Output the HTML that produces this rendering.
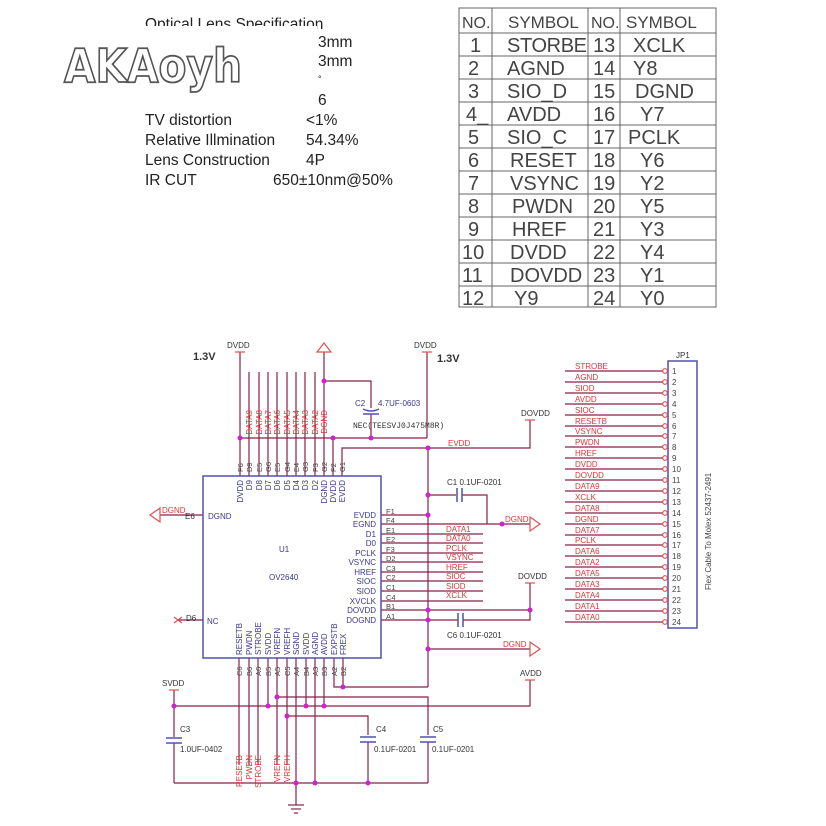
<!DOCTYPE html>
<html><head><meta charset="utf-8"><style>
html,body{margin:0;padding:0;background:#fff;width:826px;height:826px;overflow:hidden}
svg{display:block}
</style></head><body>
<svg width="826" height="826" viewBox="0 0 826 826" xmlns="http://www.w3.org/2000/svg" font-family="Liberation Sans, sans-serif">
<rect width="826" height="826" fill="#fff"/>
<!-- lens spec -->
<g font-size="15.5" fill="#222">
<text x="145" y="29">Optical Lens Specification</text>
<text x="318" y="47">3mm</text>
<text x="318" y="66">3mm</text>
<text x="318" y="82" font-size="9">°</text>
<text x="318" y="105">6</text>
<text x="145" y="125">TV distortion</text><text x="306" y="125">&lt;1%</text>
<text x="145" y="145">Relative Illmination</text><text x="306" y="145">54.34%</text>
<text x="145" y="165">Lens Construction</text><text x="306" y="165">4P</text>
<text x="145" y="185">IR CUT</text><text x="273" y="185">650±10nm@50%</text>
</g>
<rect x="55" y="26" width="262" height="64" fill="#fff"/>
<text x="64" y="82" font-size="46" font-weight="bold" fill="#fff" stroke="#555" stroke-width="1.8" font-family="DejaVu Sans, sans-serif" textLength="178" lengthAdjust="spacingAndGlyphs">AKAoyh</text>
<!-- table -->
<g stroke="#666" stroke-width="1" fill="none">
<rect x="459" y="8" width="257" height="299"/>
<line x1="492" y1="8" x2="492" y2="307"/><line x1="588" y1="8" x2="588" y2="307"/><line x1="620" y1="8" x2="620" y2="307"/>
<line x1="459" y1="33" x2="716" y2="33"/><line x1="459" y1="56" x2="716" y2="56"/><line x1="459" y1="79" x2="716" y2="79"/><line x1="459" y1="102" x2="716" y2="102"/><line x1="459" y1="125" x2="716" y2="125"/><line x1="459" y1="148" x2="716" y2="148"/><line x1="459" y1="171" x2="716" y2="171"/><line x1="459" y1="194" x2="716" y2="194"/><line x1="459" y1="217" x2="716" y2="217"/><line x1="459" y1="240" x2="716" y2="240"/><line x1="459" y1="263" x2="716" y2="263"/><line x1="459" y1="286" x2="716" y2="286"/>
</g>
<g font-family="Liberation Sans, sans-serif" font-size="20" fill="#444">
<text x="462" y="28" font-size="16">NO.</text><text x="508" y="28" font-size="17">SYMBOL</text><text x="591" y="28" font-size="16">NO.</text><text x="626" y="28" font-size="17">SYMBOL</text>
<text x="470" y="52">1</text><text x="507" y="52" textLength="80">STORBE</text><text x="593" y="52">13</text><text x="633" y="52">XCLK</text>
<text x="468" y="75">2</text><text x="507" y="75">AGND</text><text x="593" y="75">14</text><text x="633" y="75">Y8</text>
<text x="468" y="98">3</text><text x="507" y="98">SIO_D</text><text x="593" y="98">15</text><text x="635" y="98">DGND</text>
<text x="466" y="121">4_</text><text x="507" y="121">AVDD</text><text x="593" y="121">16</text><text x="640" y="121">Y7</text>
<text x="468" y="144">5</text><text x="507" y="144">SIO_C</text><text x="593" y="144">17</text><text x="628" y="144">PCLK</text>
<text x="468" y="167">6</text><text x="510" y="167">RESET</text><text x="593" y="167">18</text><text x="640" y="167">Y6</text>
<text x="468" y="190">7</text><text x="510" y="190">VSYNC</text><text x="593" y="190">19</text><text x="640" y="190">Y2</text>
<text x="468" y="213">8</text><text x="512" y="213">PWDN</text><text x="593" y="213">20</text><text x="640" y="213">Y5</text>
<text x="468" y="236">9</text><text x="512" y="236">HREF</text><text x="593" y="236">21</text><text x="640" y="236">Y3</text>
<text x="462" y="259">10</text><text x="510" y="259">DVDD</text><text x="593" y="259">22</text><text x="640" y="259">Y4</text>
<text x="462" y="282">11</text><text x="510" y="282">DOVDD</text><text x="593" y="282">23</text><text x="640" y="282">Y1</text>
<text x="462" y="305">12</text><text x="514" y="305">Y9</text><text x="593" y="305">24</text><text x="640" y="305">Y0</text>
</g>

<!-- schematic wires -->
<g stroke="#8a2048" stroke-width="1.2" fill="none">
<line x1="240" y1="352" x2="240" y2="476"/>
<line x1="249" y1="372" x2="249" y2="476"/><line x1="259" y1="372" x2="259" y2="476"/><line x1="268" y1="372" x2="268" y2="476"/><line x1="277" y1="372" x2="277" y2="476"/><line x1="287" y1="372" x2="287" y2="476"/><line x1="296" y1="372" x2="296" y2="476"/><line x1="305" y1="372" x2="305" y2="476"/><line x1="315" y1="372" x2="315" y2="476"/>
<line x1="324" y1="352" x2="324" y2="476"/>
<line x1="333" y1="438" x2="333" y2="476"/>
<polyline points="342,476 342,448 530,448 530,420"/>
<line x1="240" y1="438" x2="427" y2="438"/>
<line x1="427" y1="352" x2="427" y2="438"/>
<polyline points="324,381 371,381 371,408"/>
<line x1="371" y1="414" x2="371" y2="438"/>
<line x1="428" y1="448" x2="428" y2="687"/>
<polyline points="428,495 456,495"/><polyline points="462,495 487,495 487,524"/>
<line x1="381" y1="515" x2="428" y2="515"/>
<line x1="381" y1="524" x2="530" y2="524"/>
<line x1="381" y1="534" x2="483" y2="534"/><line x1="381" y1="543" x2="483" y2="543"/><line x1="381" y1="553" x2="483" y2="553"/><line x1="381" y1="562" x2="483" y2="562"/><line x1="381" y1="572" x2="483" y2="572"/><line x1="381" y1="581" x2="483" y2="581"/><line x1="381" y1="591" x2="483" y2="591"/><line x1="381" y1="601" x2="483" y2="601"/>
<polyline points="381,610 530,610 530,583"/>
<line x1="381" y1="620" x2="458" y2="620"/><polyline points="463,620 530,620 530,610"/>
<line x1="428" y1="649" x2="530" y2="649"/>
<line x1="160" y1="515" x2="203" y2="515"/>
<line x1="178" y1="620" x2="203" y2="620"/>
<line x1="239" y1="658" x2="239" y2="765"/><line x1="249" y1="658" x2="249" y2="765"/><line x1="258" y1="658" x2="258" y2="765"/>
<line x1="268" y1="658" x2="268" y2="706"/>
<line x1="277" y1="658" x2="277" y2="765"/><line x1="287" y1="658" x2="287" y2="765"/>
<line x1="296" y1="658" x2="296" y2="805"/>
<line x1="306" y1="658" x2="306" y2="706"/>
<line x1="315" y1="658" x2="315" y2="783"/>
<line x1="324" y1="658" x2="324" y2="706"/>
<polyline points="334,658 334,687 428,687"/>
<line x1="343" y1="658" x2="343" y2="687"/>
<polyline points="174,690 174,706 530,706 530,680"/>
<polyline points="277,697 428,697 428,735"/>
<polyline points="287,716 368,716 368,735"/>
<line x1="174" y1="706" x2="174" y2="737"/><line x1="174" y1="743" x2="174" y2="783"/>
<line x1="368" y1="742" x2="368" y2="783"/><line x1="428" y1="742" x2="428" y2="783"/>
<line x1="174" y1="783" x2="428" y2="783"/>
<g>
<line x1="565" y1="371" x2="663" y2="371"/><line x1="565" y1="382" x2="663" y2="382"/><line x1="565" y1="393" x2="663" y2="393"/><line x1="565" y1="404" x2="663" y2="404"/><line x1="565" y1="415" x2="663" y2="415"/><line x1="565" y1="426" x2="663" y2="426"/><line x1="565" y1="436" x2="663" y2="436"/><line x1="565" y1="447" x2="663" y2="447"/><line x1="565" y1="458" x2="663" y2="458"/><line x1="565" y1="469" x2="663" y2="469"/><line x1="565" y1="480" x2="663" y2="480"/><line x1="565" y1="491" x2="663" y2="491"/><line x1="565" y1="502" x2="663" y2="502"/><line x1="565" y1="513" x2="663" y2="513"/><line x1="565" y1="524" x2="663" y2="524"/><line x1="565" y1="535" x2="663" y2="535"/><line x1="565" y1="545" x2="663" y2="545"/><line x1="565" y1="556" x2="663" y2="556"/><line x1="565" y1="567" x2="663" y2="567"/><line x1="565" y1="578" x2="663" y2="578"/><line x1="565" y1="589" x2="663" y2="589"/><line x1="565" y1="600" x2="663" y2="600"/><line x1="565" y1="611" x2="663" y2="611"/><line x1="565" y1="622" x2="663" y2="622"/>
</g>
</g>
<g stroke="#5050b0" stroke-width="1.5" fill="none">
<path d="M363 409 Q371 413 379 409"/><line x1="363" y1="414" x2="379" y2="414"/>
<line x1="457" y1="488" x2="457" y2="502"/><line x1="462" y1="488" x2="462" y2="502"/>
<line x1="458" y1="613" x2="458" y2="627"/><line x1="463" y1="613" x2="463" y2="627"/>
<line x1="166" y1="738" x2="182" y2="738"/><line x1="166" y1="743" x2="182" y2="743"/>
<line x1="360" y1="737" x2="376" y2="737"/><line x1="360" y1="742" x2="376" y2="742"/>
<line x1="420" y1="737" x2="436" y2="737"/><line x1="420" y1="742" x2="436" y2="742"/>
<rect x="203" y="476" width="178" height="182"/>
<rect x="668" y="361" width="29" height="267"/>
</g>
<g stroke="#e05050" stroke-width="1.2" fill="none">
<line x1="235" y1="352" x2="245" y2="352"/><line x1="422" y1="352" x2="432" y2="352"/>
<line x1="525" y1="420" x2="535" y2="420"/><line x1="525" y1="583" x2="535" y2="583"/>
<line x1="525" y1="680" x2="535" y2="680"/><line x1="169" y1="690" x2="179" y2="690"/>
<path d="M317 352 L324 343 L331 352 Z"/>
<path d="M160 508 L150 515 L160 522 Z"/>
<path d="M530 517 L540 524 L530 531 Z"/>
<path d="M530 642 L540 649 L530 656 Z"/>
<path d="M174 617 L182 623 M182 617 L174 623"/>
<circle cx="665" cy="371" r="2.3"/><circle cx="665" cy="382" r="2.3"/><circle cx="665" cy="393" r="2.3"/><circle cx="665" cy="404" r="2.3"/><circle cx="665" cy="415" r="2.3"/><circle cx="665" cy="426" r="2.3"/><circle cx="665" cy="436" r="2.3"/><circle cx="665" cy="447" r="2.3"/><circle cx="665" cy="458" r="2.3"/><circle cx="665" cy="469" r="2.3"/><circle cx="665" cy="480" r="2.3"/><circle cx="665" cy="491" r="2.3"/><circle cx="665" cy="502" r="2.3"/><circle cx="665" cy="513" r="2.3"/><circle cx="665" cy="524" r="2.3"/><circle cx="665" cy="535" r="2.3"/><circle cx="665" cy="545" r="2.3"/><circle cx="665" cy="556" r="2.3"/><circle cx="665" cy="567" r="2.3"/><circle cx="665" cy="578" r="2.3"/><circle cx="665" cy="589" r="2.3"/><circle cx="665" cy="600" r="2.3"/><circle cx="665" cy="611" r="2.3"/><circle cx="665" cy="622" r="2.3"/>
</g>
<g stroke="#8a2048" stroke-width="1.2">
<line x1="288" y1="805" x2="304" y2="805"/><line x1="291" y1="809" x2="301" y2="809"/><line x1="294" y1="813" x2="298" y2="813"/>
</g>
<g fill="#d020d0">
<circle cx="240" cy="438" r="2.5"/><circle cx="333" cy="438" r="2.5"/><circle cx="371" cy="438" r="2.5"/><circle cx="324" cy="381" r="2.5"/>
<circle cx="428" cy="448" r="2.5"/><circle cx="428" cy="495" r="2.5"/><circle cx="428" cy="515" r="2.5"/><circle cx="502" cy="524" r="2.5"/>
<circle cx="428" cy="610" r="2.5"/><circle cx="428" cy="620" r="2.5"/><circle cx="530" cy="610" r="2.5"/><circle cx="428" cy="649" r="2.5"/>
<circle cx="343" cy="687" r="2.5"/><circle cx="174" cy="706" r="2.5"/><circle cx="268" cy="706" r="2.5"/><circle cx="306" cy="706" r="2.5"/><circle cx="324" cy="706" r="2.5"/>
<circle cx="277" cy="697" r="2.5"/><circle cx="287" cy="716" r="2.5"/>
<circle cx="296" cy="783" r="2.5"/><circle cx="315" cy="783" r="2.5"/><circle cx="368" cy="783" r="2.5"/>
</g>
<g font-size="8" fill="#333">
<text x="227" y="348">DVDD</text><text x="414" y="348">DVDD</text>
<text x="521" y="416">DOVDD</text><text x="518" y="579">DOVDD</text><text x="520" y="676">AVDD</text><text x="162" y="686">SVDD</text>
<text x="676" y="358">JP1</text>
<text x="193" y="360" font-size="11" font-weight="bold">1.3V</text><text x="437" y="362" font-size="11" font-weight="bold">1.3V</text>
<text x="378" y="406" fill="#3a3a8a">4.7UF-0603</text><text x="355" y="406" fill="#3a3a8a">C2</text>
<text x="353" y="428" font-family="Liberation Mono, monospace">NEC(TEESVJ0J475M8R)</text>
<text x="447" y="485">C1  0.1UF-0201</text>
<text x="447" y="638">C6  0.1UF-0201</text>
<text x="180" y="732">C3</text><text x="180" y="752">1.0UF-0402</text>
<text x="376" y="732">C4</text><text x="374" y="752">0.1UF-0201</text>
<text x="433" y="732">C5</text><text x="432" y="752">0.1UF-0201</text>
<text x="185" y="519">E6</text><text x="186" y="621">D6</text>
</g>
<g font-size="8" fill="#3a3a8a">
<text x="208" y="519">DGND</text><text x="207" y="624">NC</text>
<text x="279" y="552">U1</text><text x="269" y="580">OV2640</text>
<g text-anchor="end">
<text x="376" y="518">EVDD</text><text x="376" y="527">EGND</text><text x="376" y="537">D1</text><text x="376" y="546">D0</text><text x="376" y="556">PCLK</text><text x="376" y="565">VSYNC</text><text x="376" y="575">HREF</text><text x="376" y="584">SIOC</text><text x="376" y="594">SIOD</text><text x="376" y="604">XVCLK</text><text x="376" y="613">DOVDD</text><text x="376" y="623">DOGND</text>
</g>
<g text-anchor="end">
<text transform="translate(243,480) rotate(-90)">DVDD</text><text transform="translate(252,480) rotate(-90)">D9</text><text transform="translate(262,480) rotate(-90)">D8</text><text transform="translate(271,480) rotate(-90)">D7</text><text transform="translate(280,480) rotate(-90)">D6</text><text transform="translate(290,480) rotate(-90)">D5</text><text transform="translate(299,480) rotate(-90)">D4</text><text transform="translate(308,480) rotate(-90)">D3</text><text transform="translate(318,480) rotate(-90)">D2</text><text transform="translate(327,480) rotate(-90)">DGND</text><text transform="translate(336,480) rotate(-90)">DVDD</text><text transform="translate(345,480) rotate(-90)">EVDD</text>
</g>
<text transform="translate(242,655) rotate(-90)">RESETB</text><text transform="translate(252,655) rotate(-90)">PWDN</text><text transform="translate(261,655) rotate(-90)">STROBE</text><text transform="translate(271,655) rotate(-90)">SVDD</text><text transform="translate(280,655) rotate(-90)">VREFN</text><text transform="translate(290,655) rotate(-90)">VREFH</text><text transform="translate(299,655) rotate(-90)">SGND</text><text transform="translate(309,655) rotate(-90)">SVDD</text><text transform="translate(318,655) rotate(-90)">AGND</text><text transform="translate(327,655) rotate(-90)">AVDD</text><text transform="translate(337,655) rotate(-90)">EXPSTB</text><text transform="translate(346,655) rotate(-90)">FREX</text>
</g>
<g font-size="7.5" fill="#444">
<text transform="translate(243,472) rotate(-90)">F6</text><text transform="translate(252,472) rotate(-90)">D9</text><text transform="translate(262,472) rotate(-90)">E5</text><text transform="translate(271,472) rotate(-90)">G6</text><text transform="translate(280,472) rotate(-90)">E5</text><text transform="translate(290,472) rotate(-90)">G4</text><text transform="translate(299,472) rotate(-90)">E4</text><text transform="translate(308,472) rotate(-90)">G3</text><text transform="translate(318,472) rotate(-90)">F3</text><text transform="translate(327,472) rotate(-90)">G2</text><text transform="translate(336,472) rotate(-90)">F2</text><text transform="translate(345,472) rotate(-90)">G1</text>
<text transform="translate(242,676) rotate(-90)">C6</text><text transform="translate(252,676) rotate(-90)">B6</text><text transform="translate(261,676) rotate(-90)">A6</text><text transform="translate(271,676) rotate(-90)">B5</text><text transform="translate(280,676) rotate(-90)">A5</text><text transform="translate(290,676) rotate(-90)">C5</text><text transform="translate(299,676) rotate(-90)">A4</text><text transform="translate(309,676) rotate(-90)">B4</text><text transform="translate(318,676) rotate(-90)">A3</text><text transform="translate(327,676) rotate(-90)">B3</text><text transform="translate(337,676) rotate(-90)">A2</text><text transform="translate(346,676) rotate(-90)">B2</text>
<text x="386" y="514">F1</text><text x="386" y="523">F4</text><text x="386" y="533">E1</text><text x="386" y="542">E2</text><text x="386" y="552">F3</text><text x="386" y="561">D2</text><text x="386" y="571">C3</text><text x="386" y="580">C2</text><text x="386" y="590">C1</text><text x="386" y="600">C4</text><text x="386" y="609">B1</text><text x="386" y="619">A1</text>
<g font-size="8">
<text x="672" y="374">1</text><text x="672" y="385">2</text><text x="672" y="396">3</text><text x="672" y="407">4</text><text x="672" y="418">5</text><text x="672" y="429">6</text><text x="672" y="439">7</text><text x="672" y="450">8</text><text x="672" y="461">9</text><text x="672" y="472">10</text><text x="672" y="483">11</text><text x="672" y="494">12</text><text x="672" y="505">13</text><text x="672" y="516">14</text><text x="672" y="527">15</text><text x="672" y="538">16</text><text x="672" y="548">17</text><text x="672" y="559">18</text><text x="672" y="570">19</text><text x="672" y="581">20</text><text x="672" y="592">21</text><text x="672" y="603">22</text><text x="672" y="614">23</text><text x="672" y="625">24</text>
</g>
<text transform="translate(711,590) rotate(-90)" font-size="8">Flex Cable To Molex 52437-2491</text>
</g>
<g font-size="8" fill="#e03535">
<text x="448" y="446">EVDD</text>
<text x="162" y="513">DGND</text><text x="505" y="522">DGND</text><text x="503" y="647">DGND</text>
<text x="446" y="532">DATA1</text><text x="446" y="541">DATA0</text><text x="446" y="551">PCLK</text><text x="446" y="560">VSYNC</text><text x="446" y="570">HREF</text><text x="446" y="579">SIOC</text><text x="446" y="589">SIOD</text><text x="446" y="598">XCLK</text>
<g text-anchor="end">
<text transform="translate(252,410) rotate(-90)">DATA9</text><text transform="translate(262,410) rotate(-90)">DATA8</text><text transform="translate(271,410) rotate(-90)">DATA7</text><text transform="translate(280,410) rotate(-90)">DATA6</text><text transform="translate(290,410) rotate(-90)">DATA5</text><text transform="translate(299,410) rotate(-90)">DATA4</text><text transform="translate(308,410) rotate(-90)">DATA3</text><text transform="translate(318,410) rotate(-90)">DATA2</text><text transform="translate(327,410) rotate(-90)">DGND</text>
<text transform="translate(242,755) rotate(-90)">RESETB</text><text transform="translate(252,755) rotate(-90)">PWDN</text><text transform="translate(261,755) rotate(-90)">STROBE</text><text transform="translate(280,755) rotate(-90)">VREFN</text><text transform="translate(290,755) rotate(-90)">VREFH</text>
</g>
<text x="575" y="369">STROBE</text><text x="575" y="380">AGND</text><text x="575" y="391">SIOD</text><text x="575" y="402">AVDD</text><text x="575" y="413">SIOC</text><text x="575" y="424">RESETB</text><text x="575" y="434">VSYNC</text><text x="575" y="445">PWDN</text><text x="575" y="456">HREF</text><text x="575" y="467">DVDD</text><text x="575" y="478">DOVDD</text><text x="575" y="489">DATA9</text><text x="575" y="500">XCLK</text><text x="575" y="511">DATA8</text><text x="575" y="522">DGND</text><text x="575" y="533">DATA7</text><text x="575" y="543">PCLK</text><text x="575" y="554">DATA6</text><text x="575" y="565">DATA2</text><text x="575" y="576">DATA5</text><text x="575" y="587">DATA3</text><text x="575" y="598">DATA4</text><text x="575" y="609">DATA1</text><text x="575" y="620">DATA0</text>
</g>
</svg>
</body></html>
